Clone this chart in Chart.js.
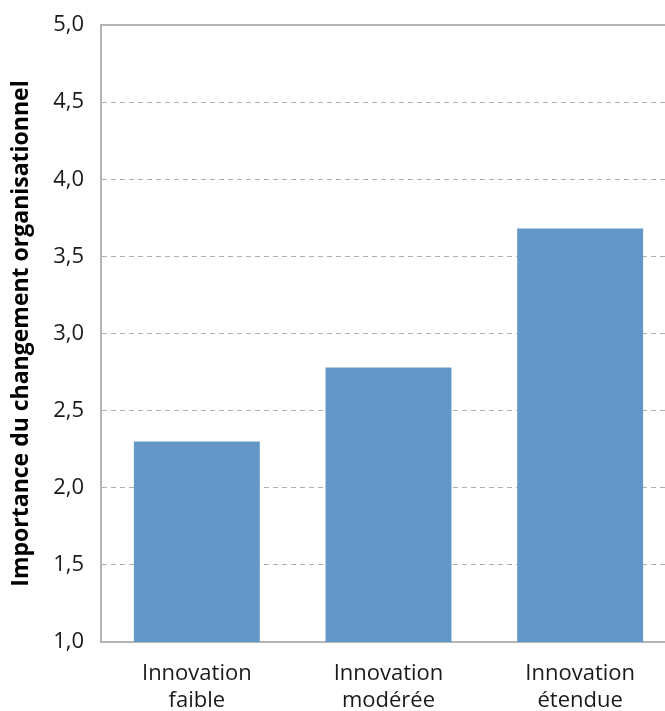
<!DOCTYPE html>
<html>
<head>
<meta charset="utf-8">
<script src="https://cdn.jsdelivr.net/npm/chart.js@4"></script>
<style>
  html, body { margin: 0; padding: 0; background: #fff; overflow: hidden; }
</style>
</head>
<body>
<canvas id="myChart" width="676" height="711"></canvas>
<script>
var categories = [["Innovation", "faible"], ["Innovation", "modérée"], ["Innovation", "étendue"]];
var values = [2.3, 2.78, 3.68];
var yMin = 1.0;
var yMax = 5.0;
var yStep = 0.5;
var yTitle = "Importance du changement organisationnel";

var axisGray = "#b4b4b4";
var gridGray = "#b0b0b0";

// solid frame line along the top of the plot area
var topFrame = {
  id: "topFrame",
  afterDraw: function (chart) {
    var a = chart.chartArea;
    var c = chart.ctx;
    c.save();
    c.strokeStyle = axisGray;
    c.lineWidth = 2;
    c.beginPath();
    c.moveTo(a.left - 1, a.top);
    c.lineTo(a.right, a.top);
    c.stroke();
    c.restore();
  }
};

var ctx = document.getElementById("myChart").getContext("2d");

var myChart = new Chart(ctx, {
  type: "bar",
  data: {
    labels: categories,
    datasets: [{
      data: values,
      backgroundColor: "#6297c8",
      borderWidth: 0,
      categoryPercentage: 1,
      barPercentage: 0.657
    }]
  },
  options: {
    responsive: false,
    animation: false,
    layout: { padding: { top: 25, bottom: 0, left: 0, right: 0 } },
    scales: {
      x: {
        grid: { display: false, drawTicks: false },
        border: { display: true, color: axisGray, width: 2 },
        ticks: {
          color: "#1a1a1a",
          padding: 18,
          maxRotation: 0,
          font: { family: "'Open Sans'", size: 22, lineHeight: 1.22 }
        },
        afterFit: function (scale) { scale.height = 69; }
      },
      y: {
        min: yMin,
        max: yMax,
        grid: {
          drawTicks: false,
          color: function (c) {
            if (c.tick && (c.tick.value === yMin || c.tick.value === yMax)) return "rgba(0,0,0,0)";
            return gridGray;
          },
          lineWidth: 1
        },
        border: { display: true, color: axisGray, width: 2, dash: [5, 4] },
        ticks: {
          stepSize: yStep,
          color: "#1a1a1a",
          padding: 17,
          font: { family: "'Open Sans'", size: 22 },
          callback: function (v) { return v.toFixed(1).replace(".", ","); }
        },
        title: {
          display: true,
          text: yTitle,
          color: "#000",
          padding: { top: 8, bottom: 0 },
          font: { family: "'Open Sans'", size: 23, weight: "bold" }
        },
        afterFit: function (scale) {
          scale.width = 101;
          scale.paddingTop = 0;
          scale.paddingBottom = 0;
        }
      }
    },
    plugins: {
      legend: { display: false },
      tooltip: { enabled: false }
    }
  },
  plugins: [topFrame]
});
</script>
</body>
</html>
